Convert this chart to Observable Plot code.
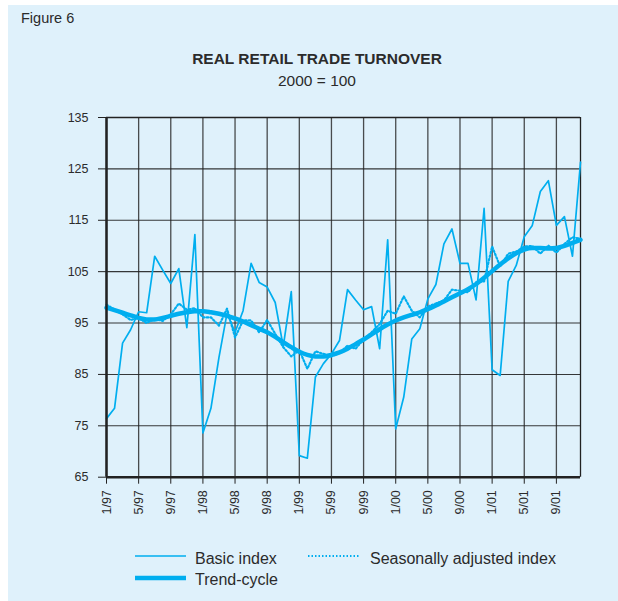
<!DOCTYPE html>
<html><head><meta charset="utf-8">
<script src="https://cdn.jsdelivr.net/npm/d3@7"></script>
<script src="https://cdn.jsdelivr.net/npm/@observablehq/plot@0.6"></script>
<style>
body{margin:0;background:#fff;font-family:"Liberation Sans",Arial,Helvetica,sans-serif;color:#2b2b2b;}
#box{position:absolute;left:8px;top:5px;width:610px;height:596px;background:#dff1fb;}
.t{position:absolute;line-height:1;white-space:nowrap;}
#chart{position:absolute;left:0;top:100px;}
.leg{position:absolute;font-size:16px;line-height:1;white-space:nowrap;}
</style></head><body>
<div id="box"></div>
<div class="t" style="left:21px;top:11px;font-size:14.5px;">Figure 6</div>
<div class="t" style="left:8px;width:618px;text-align:center;top:51px;font-size:15.5px;font-weight:bold;">REAL RETAIL TRADE TURNOVER</div>
<div class="t" style="left:8px;width:618px;text-align:center;top:73px;font-size:15.5px;">2000 = 100</div>
<div id="chart"></div>
<svg style="position:absolute;left:0;top:540px" width="618" height="50">
  <line x1="135" x2="186" y1="16" y2="16" stroke="#00aeef" stroke-width="1.6"/>
  <line x1="308" x2="360" y1="16" y2="16" stroke="#00aeef" stroke-width="2" stroke-dasharray="1.5,2"/>
  <line x1="135" x2="186" y1="38" y2="38" stroke="#00aeef" stroke-width="4.5"/>
</svg>
<div class="leg" style="left:195px;top:551px;">Basic index</div>
<div class="leg" style="left:370px;top:551px;">Seasonally adjusted index</div>
<div class="leg" style="left:195px;top:572px;">Trend-cycle</div>
<script>
const tickLabels = ["1/97","5/97","9/97","1/98","5/98","9/98","1/99","5/99","9/99","1/00","5/00","9/00","1/01","5/01","9/01"];
const yTicks = [65,75,85,95,105,115,125,135];
const basic = [76.4,78.4,91.1,93.7,97.2,97.0,108.0,105.3,102.7,105.6,94.1,112.2,
  73.6,78.4,88.3,96.9,93.2,97.4,106.6,102.9,102.0,99.0,90.4,101.1,
  69.2,68.7,84.5,87.1,89.0,91.6,101.5,99.5,97.6,98.2,90.0,111.2,
  74.4,80.6,91.9,93.9,99.7,102.5,110.4,113.3,106.6,106.6,99.5,117.3,
  85.9,84.8,103.1,106.2,111.8,114.0,120.6,122.7,114.0,115.7,108.0,126.3];
const seasAdj = [98.6,97.6,96.7,95.6,96.0,95.0,95.8,95.4,96.7,98.8,97.6,97.9,
  96.1,96.1,94.5,97.8,92.2,95.5,95.5,93.2,95.6,92.9,90.3,88.5,
  89.7,86.1,89.5,89.0,88.5,89.2,90.6,90.0,91.8,93.2,94.8,97.4,
  96.8,100.2,97.4,96.1,98.2,98.8,99.4,101.5,101.3,101.0,102.9,103.1,
  109.9,106.0,108.5,108.9,109.9,110.0,108.5,110.1,108.7,110.4,111.7,111.4];
const trend = [98.0,97.5,97.0,96.5,96.0,95.7,95.7,96.0,96.4,96.8,97.1,97.3,
  97.3,97.1,96.8,96.4,95.9,95.3,94.6,93.9,93.2,92.3,91.3,90.3,
  89.4,88.8,88.5,88.5,88.8,89.3,90.0,90.9,91.8,92.8,93.8,94.7,
  95.5,96.1,96.6,97.1,97.7,98.4,99.2,100.0,100.8,101.6,102.6,103.8,
  105.1,106.4,107.6,108.6,109.3,109.6,109.6,109.5,109.6,110.0,110.6,111.2];

const rows = basic.map((b, i) => ({i, basic: b, sa: seasAdj[i], trend: trend[i]}));
const tickIdx = tickLabels.map((_, k) => k * 4);
const blue = "#00aeef";
const ink = "#222";

const chart = Plot.plot({
  width: 618, height: 450,
  marginLeft: 106, marginRight: 38, marginTop: 17, marginBottom: 73.3,
  style: {background: "transparent", fontFamily: '"Liberation Sans",Arial,sans-serif', fontSize: "12.5px", color: "#2b2b2b"},
  x: {domain: [0, 59]},
  y: {domain: [65, 135]},
  marks: [
    Plot.gridY(yTicks, {stroke: ink, strokeOpacity: 0.9, strokeWidth: 1.1}),
    Plot.gridX(tickIdx, {stroke: ink, strokeOpacity: 0.8, strokeWidth: 1.3}),
    Plot.ruleX([59], {stroke: ink, strokeWidth: 1.3}),
    Plot.ruleY([135], {stroke: ink, strokeWidth: 1.3}),
    Plot.axisY(yTicks, {tickSize: 8, tickPadding: 10, label: null, stroke: ink}),
    Plot.axisX(tickIdx, {tickSize: 7, tickPadding: 6, tickRotate: -90, label: null, stroke: ink,
      tickFormat: d => tickLabels[d / 4]}),
    Plot.line(rows, {x: "i", y: "basic", stroke: blue, strokeWidth: 1.7}),
    Plot.line(rows, {x: "i", y: "sa", stroke: blue, strokeWidth: 2.2, strokeDasharray: "1.5,2.2"}),
    Plot.line(rows, {x: "i", y: "trend", stroke: blue, strokeWidth: 4.5, curve: "monotone-x"}),
    Plot.ruleX([0], {stroke: ink, strokeWidth: 2.5}),
    Plot.ruleY([65], {stroke: ink, strokeWidth: 2.5})
  ]
});
document.getElementById("chart").appendChild(chart);
</script>
</body></html>
